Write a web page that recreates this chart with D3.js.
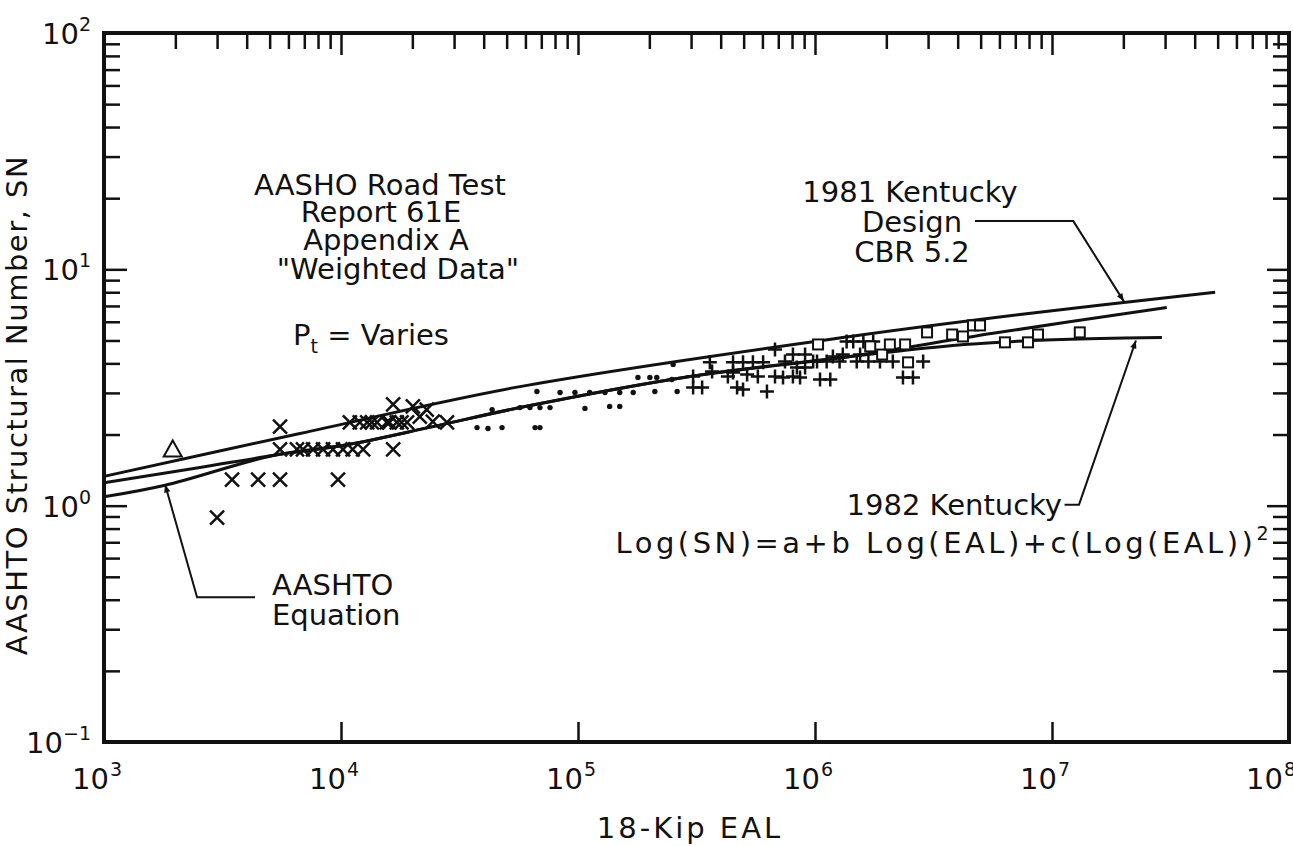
<!DOCTYPE html>
<html>
<head>
<meta charset="utf-8">
<script src="https://cdn.jsdelivr.net/npm/d3@7"></script>
<style>
body { margin: 0; background: #fff; }
text { font-family: "DejaVu Sans", sans-serif; fill: #111; }
</style>
</head>
<body>
<svg id="chart" width="1293" height="846"></svg>
<script>
"use strict";

// axis decades and tick label exponents
var xDecades = [1e3, 1e4, 1e5, 1e6, 1e7, 1e8];
var xExponents = ["3", "4", "5", "6", "7", "8"];
var yDecades = [0.1, 1, 10, 100];
var yExponents = ["\u22121", "0", "1", "2"];
var minorMultipliers = [2, 3, 4, 5, 6, 7, 8, 9];

// design curves [EAL, SN]
var kentucky1981 = [[1000, 1.33], [6710, 2.02], [56900, 3.19], [1.41e6, 5.20], [7.33e6, 6.44], [4.88e7, 8.0]];
var aashtoEquation = [[1000, 1.09], [1810, 1.22], [5160, 1.63], [10600, 1.81], [24400, 2.16], [56900, 2.60],
    [297000, 3.52], [1.41e6, 4.28], [5.64e6, 5.36], [3.05e7, 6.90]];
var kentucky1982 = [[1000, 1.25], [2540, 1.45], [5160, 1.63], [10600, 1.81], [24400, 2.16], [56900, 2.60],
    [297000, 3.52], [1.41e6, 4.28], [3.47e6, 4.72], [6.04e6, 4.91], [8.32e6, 5.00], [1.6e7, 5.10], [2.91e7, 5.15]];

// observed points [EAL, SN]
var triangles = [[1950, 1.73]];
var crosses = [[3000, 0.89], [3470, 1.29], [4470, 1.29], [5530, 1.29], [9710, 1.29], [5530, 2.16],
    [5530, 1.73], [6520, 1.73], [6910, 1.73], [7620, 1.73], [8400, 1.73], [9250, 1.73], [10200, 1.73],
    [11200, 1.73], [12400, 1.73], [16600, 1.73],
    [10900, 2.25], [12000, 2.25], [12900, 2.25], [13500, 2.25], [14200, 2.25], [15600, 2.25], [16000, 2.25],
    [17200, 2.25], [18000, 2.25], [19000, 2.25],
    [16600, 2.68], [20100, 2.63], [23000, 2.55], [21500, 2.38], [24400, 2.27], [28000, 2.25]];
var dots = [[37500, 2.14], [41700, 2.12], [47800, 2.14], [65900, 2.14], [69100, 2.14],
    [43400, 2.55], [56900, 2.60], [62700, 2.60], [69100, 2.60], [76200, 2.60], [107000, 2.58], [136000, 2.63], [150000, 2.63],
    [67100, 3.04], [84000, 3.01], [97100, 3.01], [112000, 3.01], [130000, 3.01], [150000, 3.01], [171000, 3.01],
    [211000, 3.04], [262000, 3.04], [179000, 3.49], [201000, 3.49], [215000, 3.49], [249000, 3.42], [252000, 3.96]];
var pluses = [[306000, 3.16], [334000, 3.16], [306000, 3.52], [360000, 4.04], [368000, 3.70], [429000, 3.52],
    [451000, 4.04], [497000, 4.04], [547000, 4.04], [604000, 4.04], [469000, 3.16], [497000, 3.10], [627000, 3.04],
    [451000, 3.66], [517000, 3.59], [574000, 3.52], [678000, 3.52], [733000, 3.49], [678000, 4.58], [807000, 4.36],
    [908000, 4.36], [1.02e6, 4.07], [1.19e6, 4.28], [1.05e6, 3.42], [1.16e6, 3.42], [807000, 3.52], [865000, 3.49],
    [747000, 4.07], [982000, 4.07], [1.12e6, 4.07], [1.27e6, 4.07], [1.50e6, 4.07], [1.68e6, 4.07], [1.88e6, 4.07],
    [2.13e6, 4.07], [2.86e6, 4.07], [1.31e6, 4.36], [1.55e6, 4.36], [2.35e6, 3.49], [2.59e6, 3.49],
    [1.36e6, 4.95], [1.45e6, 4.95], [1.60e6, 4.95], [1.76e6, 4.95], [839000, 3.84], [908000, 3.84]];
var squares = [[1.03e6, 4.81], [1.71e6, 4.72], [1.92e6, 4.36], [2.07e6, 4.81], [2.40e6, 4.81], [2.47e6, 4.04],
    [2.97e6, 5.41], [3.79e6, 5.30], [4.21e6, 5.20], [4.64e6, 5.79], [4.97e6, 5.79], [6.33e6, 4.91],
    [7.92e6, 4.91], [8.73e6, 5.30], [1.31e7, 5.41]];

// annotation leader points [EAL, SN]
var aashtoLeader = [[4340, 0.41], [2470, 0.41], [1810, 1.23]];
var design1981Leader = [[4.73e6, 16.0], [1.23e7, 16.0], [2.01e7, 7.32]];
var kentucky1982Leader = [[1.13e7, 1.01], [1.30e7, 1.01], [2.26e7, 5.0]];

var svg = d3.select("#chart");
var x = d3.scaleLog().domain([1e3, 1e8]).range([104, 1289]);
var y = d3.scaleLog().domain([0.1, 100]).range([742, 33]);

function getMinorTicks(decades) {
    var out = [];
    decades.slice(0, -1).forEach(function(d) {
        minorMultipliers.forEach(function(m) {
            out.push(d * m);
        });
    });
    return out;
};

function drawAxis(axisFn, scale, values, size, tx, ty) {
    var g = svg.append("g")
        .attr("transform", "translate(" + tx + "," + ty + ")")
        .call(axisFn(scale).tickValues(values).tickSize(-size).tickFormat(""));
    g.select(".domain").remove();
    g.selectAll(".tick line").attr("stroke", "#111").attr("stroke-width", 2.5);
    return g;
};

var xMinor = getMinorTicks(xDecades);
var yMinor = getMinorTicks(yDecades);
drawAxis(d3.axisTop, x, xMinor, 16, 0, 33);
drawAxis(d3.axisTop, x, xDecades, 22, 0, 33);
drawAxis(d3.axisBottom, x, xDecades, 20, 0, 742);
drawAxis(d3.axisLeft, y, yMinor, 16, 104, 0);
drawAxis(d3.axisLeft, y, yDecades, 23, 104, 0);
drawAxis(d3.axisRight, y, yMinor, 16, 1289, 0);
drawAxis(d3.axisRight, y, yDecades, 22, 1289, 0);

svg.append("rect")
    .attr("x", x(1e3)).attr("y", y(100))
    .attr("width", x(1e8) - x(1e3)).attr("height", y(0.1) - y(100))
    .attr("fill", "none").attr("stroke", "#111").attr("stroke-width", 4);

// tick labels ("10" ends just right of its tick; the last one is pulled in from the edge)
function labelRight(d, i) {
    return i == xDecades.length - 1 ? x(d) - 6 : x(d) + 5;
};

svg.append("g").selectAll("text").data(xDecades).enter().append("text")
    .attr("x", labelRight)
    .attr("y", 789)
    .attr("text-anchor", "end")
    .attr("font-size", 29)
    .text("10");

svg.append("g").selectAll("text").data(xDecades).enter().append("text")
    .attr("x", function(d, i) { return labelRight(d, i) + 1; })
    .attr("y", 776)
    .attr("font-size", 19)
    .text(function(d, i) { return xExponents[i]; });

svg.append("g").selectAll("text").data(yDecades).enter().append("text")
    .attr("x", 91)
    .attr("y", function(d) { return y(d) + 11; })
    .attr("text-anchor", "end")
    .attr("font-size", 29)
    .each(function(d, i) {
        var t = d3.select(this);
        t.append("tspan").text("10");
        t.append("tspan").attr("font-size", 19).attr("dy", -13).text(yExponents[i]);
    });

// axis titles
svg.append("text")
    .attr("x", 690).attr("y", 838)
    .attr("text-anchor", "middle")
    .attr("font-size", 29)
    .attr("letter-spacing", 3)
    .text("18-Kip EAL");

svg.append("text")
    .attr("transform", "translate(27,405) rotate(-90)")
    .attr("text-anchor", "middle")
    .attr("font-size", 29)
    .attr("letter-spacing", 1.5)
    .text("AASHTO Structural Number, SN");

// curves
var lineMaker = d3.line()
    .curve(d3.curveCatmullRom)
    .x(function(d) { return x(d[0]); })
    .y(function(d) { return y(d[1]); });

[kentucky1981, aashtoEquation, kentucky1982].forEach(function(series) {
    svg.append("path")
        .datum(series)
        .attr("d", lineMaker)
        .attr("fill", "none")
        .attr("stroke", "#111")
        .attr("stroke-width", 3);
});

// markers
svg.append("g").selectAll("path").data(crosses).enter().append("path")
    .attr("transform", function(d) { return "translate(" + x(d[0]) + "," + y(d[1]) + ")"; })
    .attr("d", "M-7,-7L7,7M-7,7L7,-7")
    .attr("stroke", "#111").attr("stroke-width", 2.5).attr("fill", "none");

svg.append("g").selectAll("path").data(pluses).enter().append("path")
    .attr("transform", function(d) { return "translate(" + x(d[0]) + "," + y(d[1]) + ")"; })
    .attr("d", "M-7,0H7M0,-7V7")
    .attr("stroke", "#111").attr("stroke-width", 2.5).attr("fill", "none");

svg.append("g").selectAll("rect").data(squares).enter().append("rect")
    .attr("x", function(d) { return x(d[0]) - 5; })
    .attr("y", function(d) { return y(d[1]) - 5; })
    .attr("width", 10).attr("height", 10)
    .attr("fill", "#fff").attr("stroke", "#111").attr("stroke-width", 2);

svg.append("g").selectAll("circle").data(dots).enter().append("circle")
    .attr("cx", function(d) { return x(d[0]); })
    .attr("cy", function(d) { return y(d[1]); })
    .attr("r", 2.7)
    .attr("fill", "#111");

svg.append("g").selectAll("path").data(triangles).enter().append("path")
    .attr("transform", function(d) { return "translate(" + x(d[0]) + "," + y(d[1]) + ")"; })
    .attr("d", "M0,-9L9,7L-9,7Z")
    .attr("stroke", "#111").attr("stroke-width", 2).attr("fill", "none");

// annotations
svg.append("defs").append("marker")
    .attr("id", "arrow")
    .attr("viewBox", "0 0 10 10")
    .attr("refX", 10).attr("refY", 5)
    .attr("markerWidth", 14).attr("markerHeight", 8)
    .attr("markerUnits", "userSpaceOnUse")
    .attr("orient", "auto")
    .append("path").attr("d", "M0,1L10,5L0,9Z").attr("fill", "#111");

var leaderMaker = d3.line()
    .x(function(d) { return x(d[0]); })
    .y(function(d) { return y(d[1]); });

[aashtoLeader, design1981Leader, kentucky1982Leader].forEach(function(pts) {
    svg.append("path")
        .datum(pts)
        .attr("d", leaderMaker)
        .attr("fill", "none")
        .attr("stroke", "#111")
        .attr("stroke-width", 2)
        .attr("marker-end", "url(#arrow)");
});

function addLines(lines) {
    lines.forEach(function(l) {
        var t = svg.append("text")
            .attr("x", l.x).attr("y", l.y)
            .attr("text-anchor", l.anchor || "middle")
            .attr("font-size", 29)
            .attr("letter-spacing", l.spacing || 0);
        if (l.sub) {
            t.append("tspan").text(l.text[0]);
            t.append("tspan").attr("font-size", 19).attr("dy", 8).text(l.sub);
            t.append("tspan").attr("dy", -8).text(l.text[1]);
        } else if (l.sup) {
            t.append("tspan").text(l.text);
            t.append("tspan").attr("font-size", 19).attr("dy", -13).text(l.sup);
        } else {
            t.text(l.text);
        }
    });
};

addLines([
    {text: "AASHO Road Test", x: 380, y: 195},
    {text: "Report 61E", x: 381, y: 222},
    {text: "Appendix A", x: 386, y: 250},
    {text: "\"Weighted Data\"", x: 398, y: 279},
    {text: ["P", " = Varies"], sub: "t", x: 371, y: 345},
    {text: "1981 Kentucky", x: 910, y: 202},
    {text: "Design", x: 912, y: 232},
    {text: "CBR 5.2", x: 912, y: 262},
    {text: "1982 Kentucky", x: 1062, y: 515, anchor: "end"},
    {text: "Log(SN)=a+b Log(EAL)+c(Log(EAL))", sup: "2", x: 1272, y: 553, anchor: "end", spacing: 3.5},
    {text: "AASHTO", x: 272, y: 595, anchor: "start"},
    {text: "Equation", x: 272, y: 625, anchor: "start"}
]);
</script>
</body>
</html>
